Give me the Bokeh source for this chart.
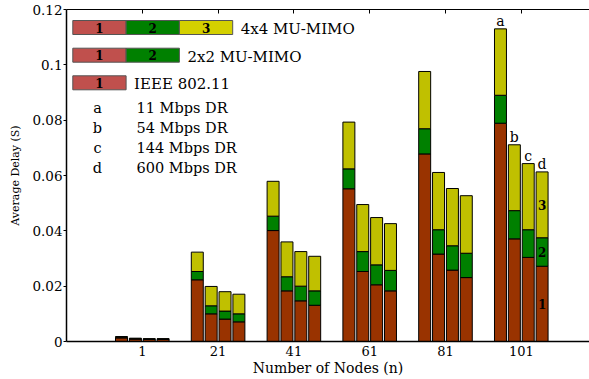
import numpy as np
from bokeh.plotting import figure
from bokeh.models import Range1d, FixedTicker, LinearAxis, CustomJSTickFormatter
from bokeh.core.properties import value
from bokeh.embed import file_html
from bokeh.resources import INLINE

# ---------------- data ----------------
nodes = ["1", "21", "41", "61", "81", "101"]
rate_letters = ["a", "b", "c", "d"]
rate_names = ["11 Mbps DR", "54 Mbps DR", "144 Mbps DR", "600 Mbps DR"]

# delay component (s) per node group (rows) and data rate a..d (cols)
delay_80211 = [
    [0.0013, 0.0009, 0.0008, 0.0008],
    [0.0223, 0.0100, 0.0081, 0.0071],
    [0.0401, 0.0183, 0.0147, 0.0131],
    [0.0552, 0.0253, 0.0205, 0.0183],
    [0.0678, 0.0316, 0.0258, 0.0231],
    [0.0789, 0.0371, 0.0304, 0.0272],
]
extra_2x2 = [
    [0.0002, 0.0001, 0.0001, 0.0001],
    [0.0030, 0.0029, 0.0029, 0.0029],
    [0.0052, 0.0051, 0.0053, 0.0052],
    [0.0072, 0.0072, 0.0072, 0.0074],
    [0.0091, 0.0088, 0.0088, 0.0088],
    [0.0101, 0.0102, 0.0100, 0.0103],
]
extra_4x4 = [
    [0.0003, 0.0002, 0.0001, 0.0001],
    [0.0070, 0.0070, 0.0070, 0.0071],
    [0.0126, 0.0126, 0.0125, 0.0125],
    [0.0169, 0.0170, 0.0171, 0.0169],
    [0.0207, 0.0207, 0.0207, 0.0208],
    [0.0240, 0.0238, 0.0239, 0.0238],
]
y_ticks = [0, 0.02, 0.04, 0.06, 0.08, 0.1, 0.12]
stage_labels = ["1", "2", "3"]
legend_names = ["4x4 MU-MIMO", "2x2 MU-MIMO", "IEEE 802.11"]

# ---------------- styles ----------------
FONT_NAME = "DejaVu Serif"
FONT = value(FONT_NAME)
bar_colors = ["#993300", "#008000", "#c0c000"]
legend_colors = ["#c0504d", "#008000", "#d4d000"]

W, H = 589, 379
LEFT, TOP, BOTTOM = 66, 9, 38
X_MAX, Y_MAX = 6.9, 0.12
frame_w = W - LEFT
frame_h = H - TOP - BOTTOM

def px_x(px):
    return (px - LEFT) / frame_w * X_MAX

def px_y(py):
    return (H - BOTTOM - py) / frame_h * Y_MAX

p = figure(width=W, height=H, output_backend="svg", toolbar_location=None,
           x_range=Range1d(0, X_MAX), y_range=Range1d(0, Y_MAX),
           min_border_left=LEFT, min_border_right=0, min_border_top=TOP,
           min_border_bottom=BOTTOM, x_axis_location=None, y_axis_location=None)
p.outline_line_color = None
p.grid.visible = False

# axes
positions = list(range(1, len(nodes) + 1))
xa = LinearAxis(ticker=FixedTicker(ticks=positions),
                major_label_overrides={pos: lab for pos, lab in zip(positions, nodes)},
                axis_label="Number of Nodes (n)")
xa.major_tick_in = 0
xa.major_tick_out = 0
xa.minor_tick_line_color = None
xa.major_label_standoff = 4
xa.axis_label_standoff = 1
xa.major_label_text_font = FONT_NAME
xa.major_label_text_font_size = "13px"
xa.major_label_text_color = "black"
xa.axis_label_text_font = FONT_NAME
xa.axis_label_text_font_style = "normal"
xa.axis_label_text_font_size = "14px"
xa.axis_label_text_color = "black"
xa.axis_line_width = 1.5
p.add_layout(xa, "below")

top_ax = LinearAxis(ticker=FixedTicker(ticks=positions),
                    formatter=CustomJSTickFormatter(code="return '';"))
top_ax.major_label_standoff = 0
top_ax.major_tick_in = 4
top_ax.major_tick_out = 0
top_ax.minor_tick_line_color = None
p.add_layout(top_ax, "above")

ya = LinearAxis(ticker=FixedTicker(ticks=y_ticks),
                formatter=CustomJSTickFormatter(code="return tick.toFixed(2).replace(/0+$/, '').replace(/\\.$/, '');"),
                axis_label="Average Delay (S)")
ya.major_tick_in = 0
ya.major_tick_out = 3
ya.minor_tick_line_color = None
ya.major_label_standoff = 1
ya.axis_label_standoff = 7
ya.major_label_text_font = FONT_NAME
ya.major_label_text_font_size = "13.5px"
ya.major_label_text_color = "black"
ya.axis_label_text_font = FONT_NAME
ya.axis_label_text_font_style = "normal"
ya.axis_label_text_font_size = "11px"
ya.axis_label_text_color = "black"
ya.axis_line_width = 1.5
p.add_layout(ya, "left")

# bars
bar_w = 0.158
pitch = 0.183
layers = [np.array(delay_80211), np.array(extra_2x2), np.array(extra_4x4)]
cum = np.zeros_like(layers[0])
xs_all = np.array([[pos + (j - 1.5) * pitch for j in range(len(rate_letters))] for pos in positions])
for k, layer in enumerate(layers):
    p.vbar(x=xs_all.ravel(), width=bar_w, bottom=cum.ravel(), top=(cum + layer).ravel(),
           fill_color=bar_colors[k], line_color="black", line_width=1)
    cum = cum + layer

# letters over the last group
last = len(nodes) - 1
p.text(x=list(xs_all[last]), y=list(cum[last]), text=rate_letters,
       text_font=FONT, text_font_size="14px", text_align="center",
       text_baseline="bottom", text_color="black")

# stage numbers inside the last bar of the last group
lb = len(rate_letters) - 1
bots = [0.0, layers[0][last, lb], layers[0][last, lb] + layers[1][last, lb]]
mids = [b + layers[k][last, lb] / 2 for k, b in enumerate(bots)]
p.text(x=[xs_all[last, lb]] * 3, y=mids, text=stage_labels,
       text_font=FONT, text_font_size="12px", text_font_style="bold",
       text_align="center", text_baseline="middle", text_color="black")

# custom legend
box_left, box_w, box_h = 72.3, 53.3, 14
row_tops = [20, 47.7, 75.3]
n_parts = [3, 2, 1]
for r, (name, npart, rt) in enumerate(zip(legend_names, n_parts, row_tops)):
    lefts = [px_x(box_left + i * box_w) for i in range(npart)]
    rights = [px_x(box_left + (i + 1) * box_w) for i in range(npart)]
    p.quad(left=lefts, right=rights, top=[px_y(rt)] * npart, bottom=[px_y(rt + box_h)] * npart,
           fill_color=legend_colors[:npart], line_color="#555555", line_width=1)
    p.text(x=[(l + rr) / 2 for l, rr in zip(lefts, rights)], y=[px_y(rt + box_h / 2)] * npart,
           text=stage_labels[:npart], text_font=FONT, text_font_size="12px",
           text_font_style="bold", text_align="center", text_baseline="middle", text_color="black")
    p.text(x=[px_x(box_left + npart * box_w + 8)], y=[px_y(rt + box_h / 2 + 1.5)], text=[name],
           text_font=FONT, text_font_size="15px", text_align="left", text_baseline="middle",
           text_color="black")

row_y = [107.3, 127.3, 147.3, 167.3]
p.text(x=[px_x(97)] * 4, y=[px_y(v) for v in row_y], text=rate_letters,
       text_font=FONT, text_font_size="14.5px", text_align="center", text_baseline="middle",
       text_color="black")
p.text(x=[px_x(136)] * 4, y=[px_y(v) for v in row_y], text=rate_names,
       text_font=FONT, text_font_size="14.5px", text_align="left", text_baseline="middle",
       text_color="black")

open("out.html", "w").write(file_html(p, INLINE))
